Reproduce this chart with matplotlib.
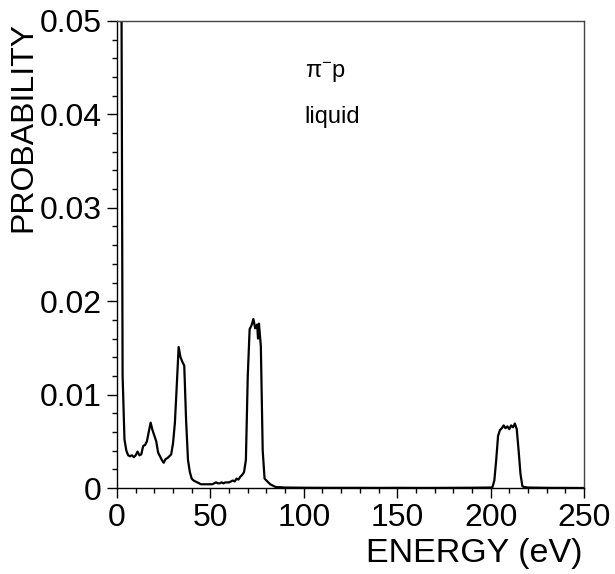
import numpy as np
import matplotlib
matplotlib.use("Agg")
import matplotlib.pyplot as plt
from matplotlib.ticker import MultipleLocator, FixedLocator, FixedFormatter

plt.rcParams['font.family'] = ['Liberation Sans', 'DejaVu Sans']
plt.rcParams['mathtext.fontset'] = 'custom'
plt.rcParams['mathtext.rm'] = 'Liberation Sans'
plt.rcParams['mathtext.it'] = 'Liberation Sans:italic'

# energy spectrum of the pi- p cascade (liquid target)
energy = [0, 1, 2, 3, 4, 5, 6, 7, 8, 9,
          10, 11, 12, 13, 14, 15, 16, 17, 18, 19,
          20, 21, 22, 23, 24, 25, 26, 27, 28, 29,
          30, 31, 32, 33, 34, 35, 36, 37, 38, 39,
          40, 41, 42, 43, 44, 45, 46, 47, 48, 49,
          50, 51, 52, 53, 54, 55, 56, 57, 58, 59,
          60, 61, 62, 63, 64, 65, 66, 67, 68, 69,
          70, 71, 72, 73, 74, 75, 75.5, 76, 77, 78, 79,
          80, 81, 82, 83, 84, 85, 86, 90, 100, 110,
          120, 130, 140, 150, 160, 170, 180, 190, 200, 201,
          202, 203, 204, 205, 206, 207, 208, 209, 210, 211,
          212, 213, 214, 215, 216, 217, 218, 220, 230, 240, 250]
prob = [0.2, 0.15, 0.08, 0.012, 0.0052, 0.0040, 0.0035, 0.0034, 0.0035, 0.0033,
        0.0035, 0.0039, 0.0035, 0.0036, 0.0045, 0.0046, 0.0050, 0.0060, 0.0070, 0.0062,
        0.0056, 0.0050, 0.0038, 0.0034, 0.0030, 0.0027, 0.0031, 0.0032, 0.0034, 0.0036,
        0.0048, 0.0070, 0.0110, 0.0151, 0.0140, 0.0135, 0.0131, 0.0072, 0.0030, 0.0017,
        0.0010, 0.0008, 0.0007, 0.0006, 0.0005, 0.0004, 0.0004, 0.0004, 0.0004, 0.0004,
        0.0004, 0.0004, 0.0005, 0.0006, 0.0005, 0.0005, 0.0006, 0.0005, 0.0006, 0.0006,
        0.0006, 0.0007, 0.0008, 0.0007, 0.0010, 0.0009, 0.0012, 0.0014, 0.0017, 0.0030,
        0.0120, 0.0170, 0.0174, 0.0181, 0.0171, 0.0175, 0.0160, 0.0176, 0.0152, 0.0040, 0.0010,
        0.0008, 0.0006, 0.0004, 0.0003, 0.0002, 0.0001, 0.0001, 0.00005, 0.00003, 0.00002,
        0.00002, 0.00002, 0.00001, 0.00002, 0.00001, 0.00001, 0.00002, 0.00003, 0.00005, 0.0001,
        0.0008, 0.0030, 0.0056, 0.0062, 0.0064, 0.0067, 0.0064, 0.0066, 0.0063, 0.0067,
        0.0065, 0.0069, 0.0063, 0.0040, 0.0015, 0.0002, 0.0001, 0.00005, 0.00002, 0.00001, 0.0]

x_ticks = [0, 50, 100, 150, 200, 250]
y_ticks = [0, 0.01, 0.02, 0.03, 0.04, 0.05]
y_tick_labels = ['0', '0.01', '0.02', '0.03', '0.04', '0.05']

fig = plt.figure(figsize=(6.15, 5.74), dpi=100)
ax = fig.add_axes([117/615, 1 - 488/574, 467/615, 467/574])

ax.plot(energy, prob, color='black', lw=1.6)

ax.set_xlim(0, 250)
ax.set_ylim(0, 0.05)
ax.xaxis.set_major_locator(FixedLocator(x_ticks))
ax.xaxis.set_minor_locator(MultipleLocator(10))
ax.yaxis.set_major_locator(FixedLocator(y_ticks))
ax.yaxis.set_major_formatter(FixedFormatter(y_tick_labels))
ax.yaxis.set_minor_locator(MultipleLocator(0.002))

ax.tick_params(which='both', direction='out', top=False, right=False, width=1)
ax.tick_params(which='major', length=7, pad=4, labelsize=23)
ax.tick_params(which='minor', length=3.5)

for side in ['left', 'bottom']:
    ax.spines[side].set_linewidth(1.0)
for side in ['top', 'right']:
    ax.spines[side].set_linewidth(1.0)
    ax.spines[side].set_color('#444444')

ax.text(100.5, 0.0445, r'π$^{\mathregular{-}}$p', fontsize=17, ha='left', va='center')
ax.text(100.5, 0.0397, 'liquid', fontsize=17, ha='left', va='center')

fig.text(23/615, 1 - 22/574, 'PROBABILITY', rotation=90, fontsize=23,
         ha='center', va='top')
fig.text(583/615, 1 - 562/574, 'ENERGY (eV)', fontsize=24.5, ha='right', va='baseline')

fig.savefig('out.png', dpi=100)
